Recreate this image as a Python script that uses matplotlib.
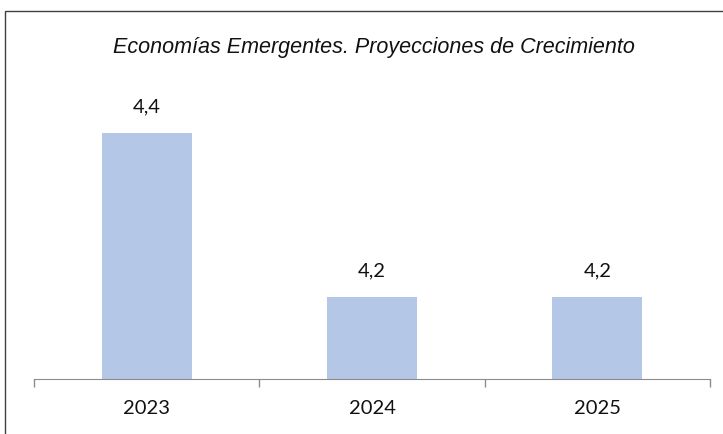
import matplotlib
matplotlib.use('Agg')
import matplotlib.pyplot as plt
from matplotlib.patches import Rectangle

years = ['2023', '2024', '2025']
growth = [4.4, 4.2, 4.2]
labels = ['4,4', '4,2', '4,2']

W, H = 723, 434
fig = plt.figure(figsize=(W / 100, H / 100), dpi=100)

# outer chart frame (open on the right and bottom, as in the crop)
fig.patches.append(Rectangle((5 / W, -0.1), 1.2, (H - 11) / H + 0.1,
                             transform=fig.transFigure, fill=False,
                             edgecolor='#404040', linewidth=1.0))

ax = fig.add_axes([34 / W, (H - 379) / H, 676 / W, 328 / H])
x = list(range(len(years)))
ax.bar(x, growth, width=0.4, color='#B4C7E7', zorder=2)
ax.set_xlim(-0.5, 2.5)
ax.set_ylim(4.1, 4.5)

for s in ['top', 'right', 'left']:
    ax.spines[s].set_visible(False)
ax.spines['bottom'].set_color('#8c8c8c')
ax.set_yticks([])

ax.set_xticks([-0.5, 0.5, 1.5, 2.5])
ax.set_xticklabels([])
ax.tick_params(axis='x', which='major', length=6, color='#8c8c8c', width=1)
ax.set_xticks(x, minor=True)
ax.set_xticklabels(years, minor=True, fontsize=14.5, family=['Lato', 'DejaVu Sans'])
ax.tick_params(axis='x', which='minor', length=0, pad=15, labelcolor='#111111')

for xi, v, lab in zip(x, growth, labels):
    ax.annotate(lab, (xi, v), xytext=(0, 13), textcoords='offset points',
                ha='center', va='bottom', fontsize=14.5, color='#111111',
                family=['Lato', 'DejaVu Sans'])

fig.text(374 / W, 1 - 48 / H, 'Economías Emergentes. Proyecciones de Crecimiento',
         ha='center', va='center', fontsize=15.5, style='italic',
         family=['Liberation Sans', 'DejaVu Sans'], color='#111111')

fig.savefig('out.png', dpi=100)
